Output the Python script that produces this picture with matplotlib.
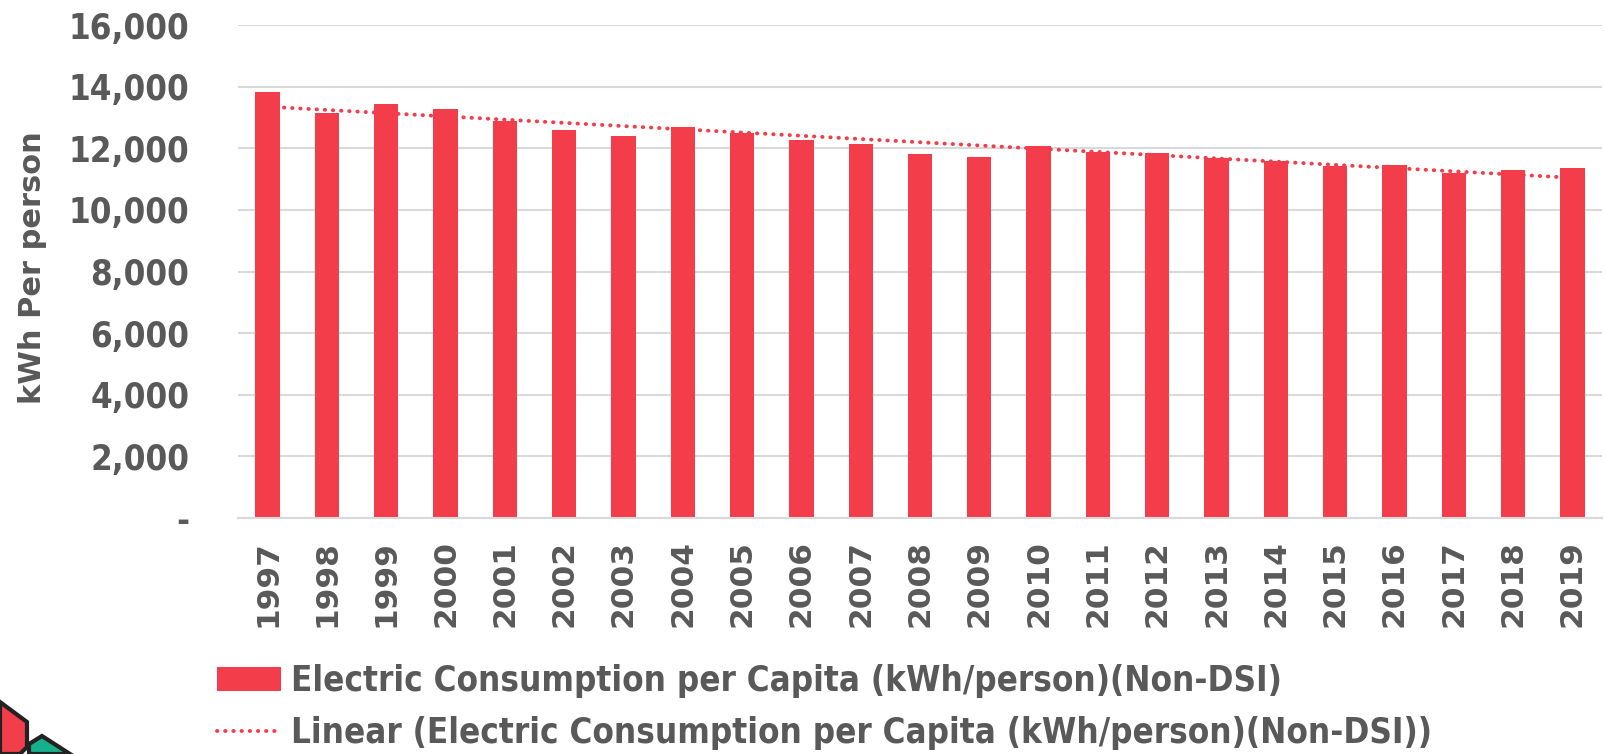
import matplotlib
matplotlib.use("Agg")
import matplotlib.pyplot as plt
import numpy as np
from matplotlib.patches import Polygon, Patch
from matplotlib.lines import Line2D
from matplotlib.ticker import FuncFormatter

# per-capita electricity use
years = ['1997', '1998', '1999', '2000', '2001', '2002', '2003', '2004',
         '2005', '2006', '2007', '2008', '2009', '2010', '2011', '2012',
         '2013', '2014', '2015', '2016', '2017', '2018', '2019']
consumption = [13820, 13150, 13440, 13260, 12870, 12600, 12400, 12700,
               12490, 12280, 12140, 11820, 11720, 12060, 11890, 11860,
               11680, 11570, 11440, 11460, 11190, 11280, 11370]
y_ticks = [0, 2000, 4000, 6000, 8000, 10000, 12000, 14000, 16000]

bar_label = 'Electric Consumption per Capita (kWh/person)(Non-DSI)'
trend_label = 'Linear (Electric Consumption per Capita (kWh/person)(Non-DSI))'

red = '#F33D4B'
grey = '#595959'
font = ['DejaVu Sans']
dots = (0, (0.1, 2.0))

fig = plt.figure(figsize=(16.05, 7.54), dpi=100)
ax = fig.add_axes([238 / 1605, 1 - 518 / 754, (1602 - 238) / 1605, (518 - 25) / 754])

x = np.arange(len(years))
ax.bar(x, consumption, width=0.41, color=red, zorder=2)

# linear trendline like Excel's
k, b = np.polyfit(x, consumption, 1)
ax.plot(x, k * x + b, linestyle=dots, color=red, linewidth=2.8,
        dash_capstyle='round', zorder=3)

ax.set_xlim(-0.5, len(years) - 0.5)
ax.set_ylim(0, 16000)
ax.set_yticks(y_ticks)
ax.yaxis.set_major_formatter(FuncFormatter(lambda v, p: '-' if v == 0 else f'{int(v):,}'))
ax.set_xticks(x)
ax.set_xticklabels(years, rotation=90)
ax.grid(axis='y', color='#D9D9D9', linewidth=1.5, zorder=0)
for s in ['top', 'right', 'left']:
    ax.spines[s].set_visible(False)
ax.spines['bottom'].set_color('#D9D9D9')
ax.spines['bottom'].set_linewidth(1.5)
ax.tick_params(length=0)
ax.tick_params(axis='y', pad=35)
ax.tick_params(axis='x', pad=16)
for t in ax.get_yticklabels():
    t.set_fontfamily(font)
    t.set_fontweight('bold')
    t.set_fontstretch('condensed')
    t.set_fontsize(25)
    t.set_color(grey)
for t in ax.get_xticklabels():
    t.set_fontfamily(font)
    t.set_fontweight('bold')
    t.set_fontsize(22.5)
    t.set_color(grey)

fig.text(33 / 1605, 1 - 268 / 754, 'kWh Per person', rotation=90, ha='center', va='center',
         fontsize=22, fontweight='bold', color=grey, family=font)

handles = [Patch(facecolor=red), Line2D([0], [0], color=red, linestyle=dots,
                                        linewidth=2.8, dash_capstyle='round')]
fig.legend(handles, [bar_label, trend_label], loc='upper left',
           bbox_to_anchor=(186 / 1605, 1 - 633 / 754), frameon=False,
           prop={'family': font, 'weight': 'bold', 'size': 25, 'stretch': 'condensed'},
           labelcolor=grey, handlelength=1.85, handleheight=0.65, handletextpad=0.28,
           labelspacing=0.5)

# corner logo fragment
fig.patches.append(Polygon([(0, 52), (27, 32), (27, 7), (20, 0), (0, 0)], closed=True,
                           facecolor=red, edgecolor='#222222', linewidth=3,
                           transform=None, figure=fig))
fig.patches.append(Polygon([(29, 0), (29, 10), (42, 18), (70, 0)], closed=True,
                           facecolor='#16B08A', edgecolor='#222222', linewidth=3,
                           transform=None, figure=fig))

fig.savefig('out.png', dpi=100)
